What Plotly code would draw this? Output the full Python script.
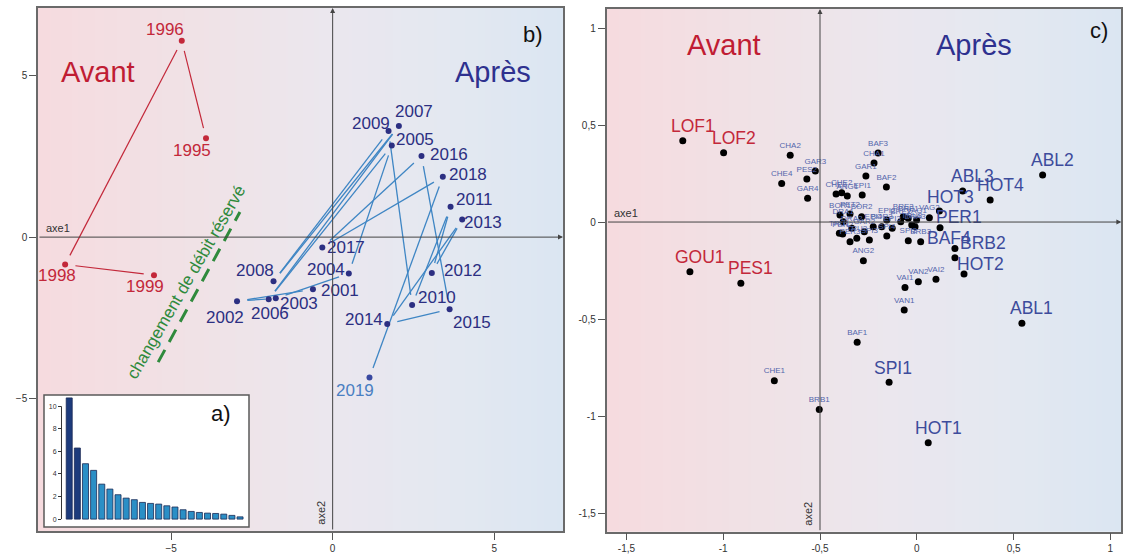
import numpy as np
import plotly.graph_objects as go

W, H = 1126, 555

# ---------------- panel b : years on factorial plane ----------------
pre_years = [1995, 1996, 1998, 1999]
pre_x = [-3.92, -4.67, -8.28, -5.53]
pre_y = [3.07, 6.09, -0.85, -1.18]

post_years = list(range(2001, 2020))
post_x = [-0.61, -2.96, -1.76, 0.50, 1.83, -1.98, 2.05, -1.83, 1.73, 2.46,
          3.65, 3.07, 4.01, 1.69, 3.62, 2.75, -0.32, 3.41, 1.14]
post_y = [-1.62, -1.99, -1.90, -1.13, 2.84, -1.93, 3.45, -1.37, 3.29, -2.11,
          0.94, -1.11, 0.55, -2.70, -2.24, 2.52, -0.32, 1.87, -4.36]

# label offsets in pixels (dx, dy up) - style only
year_offset = {
    1995: (-14, -12), 1996: (-17, 11), 1998: (-8, -11), 1999: (-9, -11),
    2001: (27, -1), 2002: (-12, -16), 2003: (23, -5), 2004: (-23, 4),
    2005: (23, 6), 2006: (1, -14), 2007: (15, 14), 2008: (-19, 11),
    2009: (-18, 8), 2010: (25, 8), 2011: (24, 7), 2012: (31, 2),
    2013: (21, -3), 2014: (-23, 5), 2015: (22, -13), 2016: (28, 1),
    2017: (24, 0), 2018: (25, 2), 2019: (-14, -13),
}

# ---------------- panel a : eigenvalues ----------------
eigenvalues = [10.74, 6.3, 4.91, 4.32, 3.1, 2.66, 2.16, 1.86, 1.72, 1.48, 1.39,
               1.33, 1.18, 1.07, 0.83, 0.68, 0.59, 0.53, 0.5, 0.44, 0.33, 0.2]

# ---------------- panel c : stations ----------------
big_names = ["LOF1", "LOF2", "GOU1", "PES1", "ABL2", "ABL3", "HOT4", "HOT3",
             "PER1", "BAF4", "BRB2", "HOT2", "ABL1", "SPI1", "HOT1"]
big_x = [-1.209, -0.998, -1.172, -0.909, 0.650, 0.237, 0.379, 0.117,
         0.120, 0.197, 0.197, 0.244, 0.543, -0.143, 0.059]
big_y = [0.419, 0.357, -0.256, -0.316, 0.242, 0.160, 0.113, 0.057,
         -0.029, -0.136, -0.184, -0.268, -0.522, -0.826, -1.138]
big_group = ["avant"] * 4 + ["apres"] * 11
big_offset = {"PER1": (19, 11), "BAF4": (-6, 10), "BRB2": (28, 15),
              "HOT2": (16, 10), "SPI1": (4, 14), "HOT3": (11, 14)}

small_names = ["CHA2", "GAR3", "PES2", "CHE4", "GAR4", "BAF3", "CHA1", "GAR1",
               "BAF2", "BAF1", "CHE1", "BRB1", "VAI1", "VAN2", "VAI2", "VAN1",
               "ANG2", "CHE3", "CHE2", "ANG1", "EPI1", "BOR1", "PET2", "BOR2",
               "DRA1", "DRA2", "TRU1", "PER2", "TRU2", "PER3", "SPI3", "GAR2",
               "EPI4", "BOR3", "EPI2", "SPI4", "EPI3", "BRE2", "BRE3", "BRE1",
               "VAG1", "DRA3", "TRU3", "VAG2", "SPI2", "BRB3"]
small_x = [-0.654, -0.524, -0.568, -0.698, -0.564, -0.200, -0.221, -0.263,
           -0.157, -0.308, -0.736, -0.504, -0.061, 0.008, 0.099, -0.065,
           -0.276, -0.417, -0.388, -0.359, -0.282, -0.397, -0.345, -0.285,
           -0.380, -0.336, -0.400, -0.383, -0.310, -0.345, -0.245, -0.271,
           -0.225, -0.181, -0.155, -0.155, -0.127, -0.083, -0.070, -0.044,
           -0.001, -0.009, -0.026, 0.065, -0.044, 0.020]
small_y = [0.344, 0.263, 0.222, 0.199, 0.122, 0.356, 0.304, 0.237,
           0.180, -0.619, -0.818, -0.966, -0.337, -0.308, -0.295, -0.454,
           -0.199, 0.144, 0.151, 0.134, 0.139, 0.036, 0.041, 0.027,
           0.002, -0.032, -0.058, -0.062, -0.084, -0.102, -0.093, -0.050,
           -0.024, -0.024, 0.010, -0.072, -0.032, 0.002, 0.027, 0.019,
           0.010, -0.024, -0.015, 0.022, -0.096, -0.102]

# ---------------- styling ----------------
RED = "#c3283a"
NAVY = "#2c2f82"
LINE_BLUE = "#3f86c4"
LIGHT_BLUE = "#4a7fc2"
LAB_BLUE = "#3d4c9c"
SMALL_BLUE = "#5466ac"
GREEN = "#2f8a3c"
BG_SCALE = [[0.0, "#f6dbdf"], [0.3, "#f0e2e6"], [0.55, "#ebe7ee"],
            [0.8, "#e3e8f1"], [1.0, "#dbe6f2"]]
FONT = "Liberation Sans, Arial, sans-serif"

XB = [-9.12, 7.13]
YB = [-9.12, 7.11]
XC = [-1.603, 1.057]
YC = [-1.596, 1.098]
XA = [-3.1, 22.1]
YA = [-0.7, 11.0]


def px2paper_x(p):
    return p / W


def px2paper_y(p):
    return 1 - p / H


def trimmed_segments(xs, ys, trim):
    lx, ly = [], []
    for i in range(len(xs) - 1):
        p = np.array([xs[i], ys[i]])
        q = np.array([xs[i + 1], ys[i + 1]])
        d = q - p
        L = np.hypot(*d)
        if L <= 2 * trim:
            continue
        a = p + d * trim / L
        b = q - d * trim / L
        lx += [a[0], b[0], None]
        ly += [a[1], b[1], None]
    return lx, ly


def gradient(xr, yr, xa, ya):
    n = 80
    xs = np.linspace(xr[0], xr[1], n)
    t = np.linspace(0, 1, n)
    return go.Heatmap(x=xs, y=[yr[0], yr[1]], z=[t, t], colorscale=BG_SCALE,
                      zmin=0, zmax=1, showscale=False, zsmooth="best",
                      hoverinfo="skip", xaxis=xa, yaxis=ya)


fig = go.Figure()

# backgrounds
fig.add_trace(gradient(XB, YB, "x", "y"))
fig.add_trace(gradient(XC, YC, "x2", "y2"))

# panel b segments
lx, ly = trimmed_segments(pre_x, pre_y, 0.32)
fig.add_trace(go.Scatter(x=lx, y=ly, mode="lines", line=dict(color=RED, width=1.2),
                         xaxis="x", yaxis="y", hoverinfo="skip"))
lx, ly = trimmed_segments(post_x, post_y, 0.32)
fig.add_trace(go.Scatter(x=lx, y=ly, mode="lines", line=dict(color=LINE_BLUE, width=1.3),
                         xaxis="x", yaxis="y", hoverinfo="skip"))

# dashed change line (decoration)
fig.add_trace(go.Scatter(x=[-5.40, -2.87], y=[-3.88, 0.78], mode="lines",
                         line=dict(color=GREEN, width=3, dash="14px,9px"),
                         xaxis="x", yaxis="y", hoverinfo="skip"))

# panel b points
fig.add_trace(go.Scatter(x=pre_x, y=pre_y, mode="markers",
                         marker=dict(color=RED, size=6), xaxis="x", yaxis="y"))
post_colors = [NAVY] * (len(post_years) - 1) + ["#3848a0"]
fig.add_trace(go.Scatter(x=post_x, y=post_y, mode="markers",
                         marker=dict(color=post_colors, size=6), xaxis="x", yaxis="y"))

# panel c points
fig.add_trace(go.Scatter(x=small_x, y=small_y, mode="markers+text", text=small_names,
                         textposition="top center",
                         textfont=dict(size=8, color=SMALL_BLUE, family=FONT),
                         marker=dict(color="black", size=7), xaxis="x2", yaxis="y2"))
fig.add_trace(go.Scatter(x=big_x, y=big_y, mode="markers",
                         marker=dict(color="black", size=7), xaxis="x2", yaxis="y2"))

# panel a bars
bar_colors = ["#1d3b7c"] * 2 + ["#2b8fc6"] * (len(eigenvalues) - 2)
fig.add_trace(go.Bar(x=list(range(len(eigenvalues))), y=eigenvalues,
                     marker=dict(color=bar_colors, line=dict(color="#1b2a55", width=0.8)),
                     width=0.74, xaxis="x3", yaxis="y3"))

annotations = []

# year labels
for yr, x, y in zip(pre_years, pre_x, pre_y):
    dx, dy = year_offset[yr]
    annotations.append(dict(x=x, y=y, xref="x", yref="y", text=str(yr), showarrow=False,
                            xshift=dx, yshift=dy,
                            font=dict(size=17, color=RED, family=FONT)))
for yr, x, y in zip(post_years, post_x, post_y):
    dx, dy = year_offset[yr]
    col = LIGHT_BLUE if yr == 2019 else NAVY
    annotations.append(dict(x=x, y=y, xref="x", yref="y", text=str(yr), showarrow=False,
                            xshift=dx, yshift=dy,
                            font=dict(size=17, color=col, family=FONT)))

# big station labels
for nm, x, y, g in zip(big_names, big_x, big_y, big_group):
    dx, dy = big_offset.get(nm, (10, 15))
    col = RED if g == "avant" else LAB_BLUE
    annotations.append(dict(x=x, y=y, xref="x2", yref="y2", text=nm, showarrow=False,
                            xshift=dx, yshift=dy,
                            font=dict(size=17.5, color=col, family=FONT)))

# axis arrows (axe1 / axe2)
for xr_, yr_, xa, ya, x0 in [(XB, YB, "x", "y", 0.0), (XC, YC, "x2", "y2", -0.5)]:
    annotations.append(dict(x=xr_[1], y=0, ax=xr_[0], ay=0, xref=xa, yref=ya,
                            axref=xa, ayref=ya, text="", showarrow=True,
                            arrowhead=2, arrowsize=1, arrowwidth=1, arrowcolor="#444"))
    annotations.append(dict(x=x0, y=yr_[1], ax=x0, ay=yr_[0], xref=xa, yref=ya,
                            axref=xa, ayref=ya, text="", showarrow=True,
                            arrowhead=2, arrowsize=1, arrowwidth=1, arrowcolor="#444"))
    annotations.append(dict(x=0.011, y=0, xref=xa + " domain", yref=ya, text="axe1",
                            showarrow=False, xanchor="left", yanchor="bottom", yshift=1,
                            font=dict(size=11, color="#333", family=FONT)))
    annotations.append(dict(x=x0, y=0.0, xref=xa, yref=ya + " domain", text="axe2",
                            showarrow=False, textangle=-90, xanchor="right",
                            yanchor="bottom", xshift=-4, yshift=4,
                            font=dict(size=11, color="#333", family=FONT)))


# titles inside panels
def paper_text(px, py, text, size, color):
    annotations.append(dict(x=px2paper_x(px), y=px2paper_y(py), xref="paper", yref="paper",
                            xanchor="center", yanchor="middle",
                            text=text, showarrow=False,
                            font=dict(size=size, color=color, family=FONT)))


paper_text(98, 72, "Avant", 29, "#c01c33")
paper_text(493, 72, "Après", 29, "#2e318f")
paper_text(533, 34, "b)", 22, "#111")
paper_text(724, 45, "Avant", 29, "#c01c33")
paper_text(974, 45, "Après", 29, "#2e318f")
paper_text(1099, 31, "c)", 22, "#111")
paper_text(221, 413, "a)", 22, "#111")

annotations.append(dict(x=-4.54, y=-1.40, xref="x", yref="y",
                        text="changement de débit réservé", showarrow=False,
                        textangle=-60, font=dict(size=17, color=GREEN, family=FONT)))

shapes = [
    # inset white background
    dict(type="rect", xref="x3 domain", yref="y3 domain", x0=0, x1=1, y0=0, y1=1,
         fillcolor="white", line=dict(width=0), layer="below"),
    # inset frame
    dict(type="rect", xref="paper", yref="paper", x0=44 / W, x1=249 / W,
         y0=1 - 527 / H, y1=1 - 395 / H, fillcolor="rgba(0,0,0,0)",
         line=dict(color="#5a5a5a", width=1.5), layer="above"),
    dict(type="line", xref="x3", yref="y3", x0=-0.95, x1=-0.95, y0=0, y1=10,
         line=dict(color="#333", width=1)),
]

axis_common = dict(showgrid=False, zeroline=False, showline=True, mirror=True,
                   linecolor="#6a6a6a", linewidth=1.5, ticks="outside", ticklen=7,
                   tickcolor="#555", tickfont=dict(size=10, color="#333", family=FONT))

fig.update_layout(
    width=W, height=H, margin=dict(l=0, r=0, t=0, b=0),
    paper_bgcolor="white", plot_bgcolor="white", showlegend=False,
    font=dict(family=FONT),
    xaxis=dict(domain=[38 / W, 563 / W], range=XB, tickvals=[-5, 0, 5],
               anchor="y", **axis_common),
    yaxis=dict(domain=[1 - 531 / H, 1 - 8 / H], range=YB, tickvals=[-5, 0, 5],
               anchor="x", **axis_common),
    xaxis2=dict(domain=[606.5 / W, 1121.4 / W], range=XC,
                tickvals=[-1.5, -1, -0.5, 0, 0.5, 1],
                ticktext=["-1,5", "-1", "-0,5", "0", "0,5", "1"],
                anchor="y2", **axis_common),
    yaxis2=dict(domain=[1 - 531.7 / H, 1 - 9 / H], range=YC,
                tickvals=[-1.5, -1, -0.5, 0, 0.5, 1],
                ticktext=["-1,5", "-1", "-0,5", "0", "0,5", "1"],
                anchor="x2", **axis_common),
    xaxis3=dict(domain=[44 / W, 249 / W], range=XA, showticklabels=False, ticks="",
                showgrid=False, zeroline=False, showline=False, anchor="y3"),
    yaxis3=dict(domain=[1 - 527 / H, 1 - 395 / H], range=YA, tickvals=[0, 2, 4, 6, 8, 10],
                anchor="free", position=61 / W, showgrid=False, zeroline=False,
                showline=False, ticks="outside", ticklen=3, tickcolor="#333",
                tickfont=dict(size=7, color="#333", family=FONT)),
    annotations=annotations,
    shapes=shapes,
)

fig.write_html("out.html", config={"displayModeBar": False},
               post_script="document.body.style.margin='0px';")
